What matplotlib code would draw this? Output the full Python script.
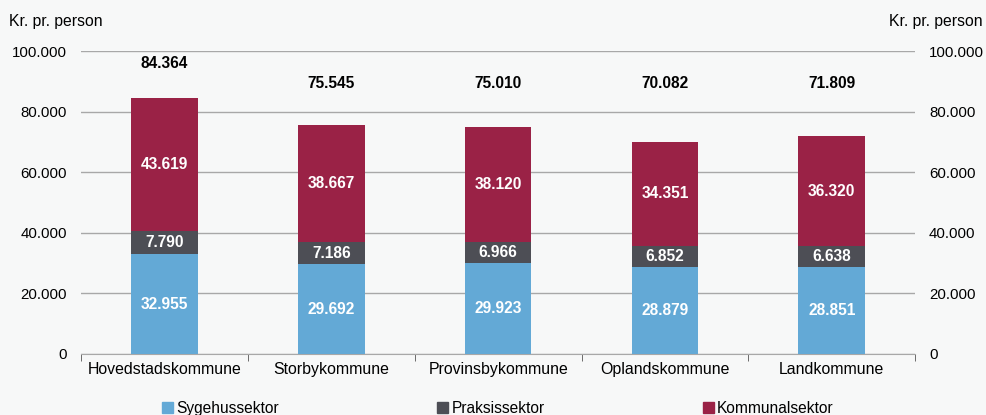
import matplotlib.pyplot as plt
import numpy as np
from matplotlib.patches import Patch

plt.rcParams['font.family'] = ['Liberation Sans', 'DejaVu Sans']

categories = ['Hovedstadskommune', 'Storbykommune', 'Provinsbykommune', 'Oplandskommune', 'Landkommune']
sygehus = [32955, 29692, 29923, 28879, 28851]
praksis = [7790, 7186, 6966, 6852, 6638]
kommunal = [43619, 38667, 38120, 34351, 36320]
totals = [84364, 75545, 75010, 70082, 71809]

series = [('Sygehussektor', sygehus, '#63a9d6'),
          ('Praksissektor', praksis, '#4d4e55'),
          ('Kommunalsektor', kommunal, '#9a2246')]

def fmt(v):
    return f'{v:,.0f}'.replace(',', '.')

bg = '#f7f8f8'
fig = plt.figure(figsize=(9.86, 4.15), dpi=100, facecolor=bg)
ax = fig.add_axes([0.0822, 0.147, 0.846, 0.730], facecolor=bg)

x = np.arange(len(categories))
bottom = np.zeros(len(categories))
for name, vals, col in series:
    vals = np.array(vals)
    ax.bar(x, vals, 0.4, bottom=bottom, color=col, zorder=3)
    for xi, b, v in zip(x, bottom, vals):
        ax.text(xi, b + v / 2, fmt(v), ha='center', va='center', color='white',
                fontsize=11.2, fontweight='bold', zorder=4)
    bottom += vals

for xi, t in zip(x, totals):
    ax.text(xi, max(t + 11500, 89300), fmt(t), ha='center', va='center',
            fontsize=11.2, fontweight='bold', color='black')

ax.set_xlim(-0.5, len(categories) - 0.5)
ax.set_ylim(0, 100000)
ticks = np.arange(0, 100001, 20000)
ax.set_yticks(ticks)
ax.set_yticklabels([fmt(t) for t in ticks])
ax.tick_params(axis='y', length=0, pad=10, labelsize=10.8, labelright=True, right=False)
ax.yaxis.grid(True, color='#a8a8a8', linewidth=1)
ax.set_axisbelow(True)

ax.set_xticks(x)
ax.set_xticklabels(categories)
ax.tick_params(axis='x', which='major', length=0, labelsize=11.4, pad=6)
ax.set_xticks(np.arange(-0.5, len(categories)), minor=True)
ax.tick_params(axis='x', which='minor', length=5, color='#555555')

for s in ['top', 'left', 'right']:
    ax.spines[s].set_visible(False)
ax.spines['bottom'].set_color('#a8a8a8')

fig.text(0.009, 0.948, 'Kr. pr. person', fontsize=11.3, ha='left', va='center')
fig.text(0.997, 0.948, 'Kr. pr. person', fontsize=11.3, ha='right', va='center')

handles = [Patch(color=c, label=n) for n, _, c in series]
fig.legend(handles=handles, loc='lower center', bbox_to_anchor=(0.505, -0.035), ncol=3,
           frameon=False, fontsize=11.2, handlelength=0.7, handleheight=0.7,
           handletextpad=0.2, columnspacing=10.2)

fig.savefig('out.png', dpi=100, facecolor=bg)
